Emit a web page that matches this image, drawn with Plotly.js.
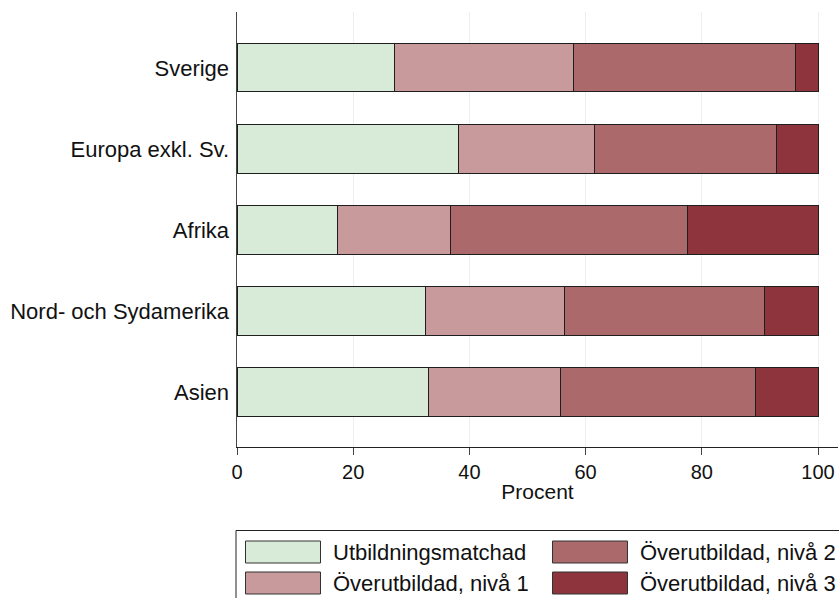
<!DOCTYPE html>
<html>
<head>
<meta charset="utf-8">
<script src="https://cdn.plot.ly/plotly-3.0.1.min.js"></script>
<style>
html,body{margin:0;padding:0;background:#fff;}
#chart{width:839px;height:598px;}
</style>
</head>
<body>
<div id="chart"></div>
<script>
// ---- data ----
const categories = ['Sverige', 'Europa exkl. Sv.', 'Afrika', 'Nord- och Sydamerika', 'Asien'];
const seriesNames = ['Utbildningsmatchad', 'Överutbildad, nivå 1', 'Överutbildad, nivå 2', 'Överutbildad, nivå 3'];
const matchad = [27.1, 38.1, 17.3, 32.4, 33.0];
const niva1   = [30.9, 23.4, 19.4, 23.9, 22.7];
const niva2   = [38.2, 31.4, 40.9, 34.5, 33.6];
const niva3   = [3.8, 7.1, 22.4, 9.2, 10.7];
const tickVals = [0, 20, 40, 60, 80, 100];
const xTitle = 'Procent';

// ---- styling ----
const colors = ['#d8ead8', '#c89a9c', '#ab696c', '#8d343c'];
const W = 839, H = 598;
const M = {l: 237, r: 1, t: 12, b: 151};
const plotW = W - M.l - M.r, plotH = H - M.t - M.b;
const FONT = 'Liberation Sans, Arial, Helvetica, sans-serif';

const seriesValues = [matchad, niva1, niva2, niva3];
const traces = seriesValues.map((vals, i) => ({
  type: 'bar',
  orientation: 'h',
  name: seriesNames[i],
  y: categories,
  x: vals,
  width: 0.595,
  marker: {color: colors[i], line: {color: '#1e1e1e', width: 1}},
  hoverinfo: 'name+x',
  showlegend: false
}));

// pixel -> paper helpers for the hand-drawn legend box
const px = x => (x - M.l) / plotW;
const py = y => (H - M.b - y) / plotH;

const shapes = [];
const annotations = [];
// legend frame
shapes.push({type: 'rect', xref: 'paper', yref: 'paper',
  x0: px(236), x1: px(860), y0: py(530.5), y1: py(620),
  line: {color: '#222', width: 1}, fillcolor: 'rgba(0,0,0,0)', layer: 'above'});
// legend entries: column-major layout (2 rows)
const colX = [245.5, 552.5];
const swW = 75;
const rowY = [541, 572];
const swH = 22;
const textX = [331, 637.5];
seriesNames.forEach((nm, i) => {
  const c = Math.floor(i / 2), r = i % 2;
  shapes.push({type: 'rect', xref: 'paper', yref: 'paper',
    x0: px(colX[c]), x1: px(colX[c] + swW), y0: py(rowY[r]), y1: py(rowY[r] + swH),
    line: {color: '#333', width: 1}, fillcolor: colors[i], layer: 'above'});
  annotations.push({xref: 'paper', yref: 'paper', x: px(textX[c]), y: py(rowY[r] + swH / 2),
    xanchor: 'left', yanchor: 'middle', showarrow: false, text: nm,
    font: {family: FONT, size: 22, color: '#111'}});
});

const layout = {
  width: W, height: H,
  margin: M,
  paper_bgcolor: '#fff', plot_bgcolor: '#fff',
  barmode: 'stack',
  showlegend: false,
  font: {family: FONT, color: '#111'},
  xaxis: {
    range: [0, 100 * plotW / 581],
    tickvals: tickVals,
    ticktext: tickVals.map(String),
    showgrid: true, gridcolor: '#e9eff3', gridwidth: 1,
    zeroline: false,
    showline: true, linecolor: '#222', linewidth: 1.3,
    ticks: 'outside', ticklen: 7, tickcolor: '#444', tickwidth: 1,
    tickfont: {family: FONT, size: 20, color: '#111'},
    title: {text: xTitle, font: {family: FONT, size: 21, color: '#111'}, standoff: 2},
    fixedrange: true
  },
  yaxis: {
    type: 'category',
    range: [4.68, -0.69],
    showgrid: false, zeroline: false,
    showline: true, linecolor: '#444', linewidth: 1.5,
    ticks: '', ticklabelstandoff: 2,
    tickfont: {family: FONT, size: 22, color: '#111'},
    fixedrange: true
  },
  shapes: shapes,
  annotations: annotations
};

Plotly.newPlot('chart', traces, layout, {displayModeBar: false, staticPlot: true});
</script>
</body>
</html>
